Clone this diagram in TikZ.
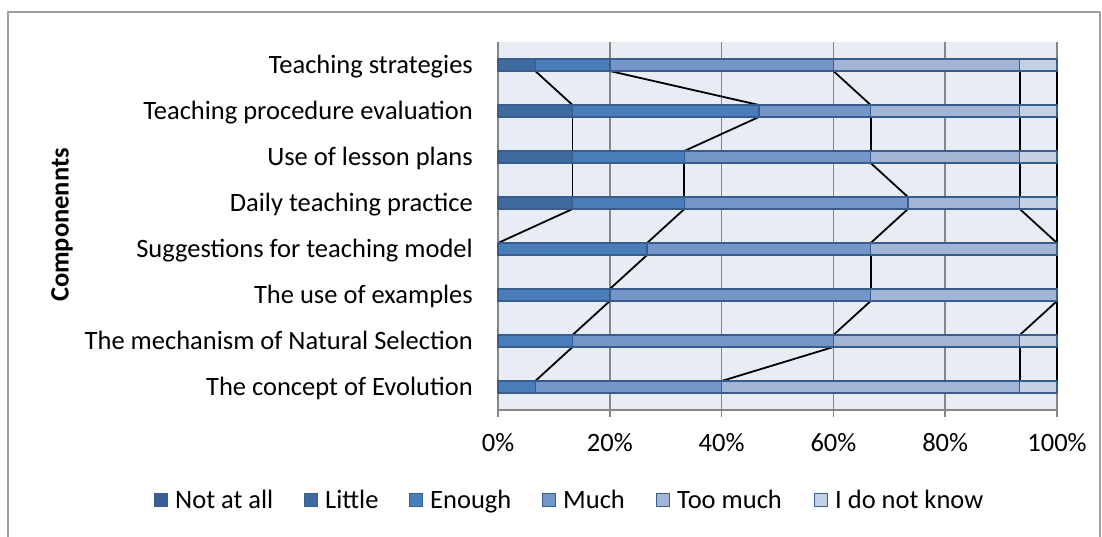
\documentclass[tikz,border=0pt]{standalone}
\usepackage{fontspec}
\setmainfont{Carlito}
\definecolor{notatall}{RGB}{58,96,146}
\definecolor{little}{RGB}{62,106,160}
\definecolor{enough}{RGB}{74,126,187}
\definecolor{much}{RGB}{117,150,201}
\definecolor{toomuch}{RGB}{162,181,215}
\definecolor{dontknow}{RGB}{196,208,230}
\definecolor{barline}{RGB}{56,93,138}
\definecolor{plotbg}{RGB}{232,236,244}
\definecolor{gridgray}{RGB}{134,134,134}
\begin{document}
\begin{tikzpicture}[x=1pt, y=-1pt, font=\fontsize{26.5}{32}\selectfont, line join=round,
		seg/.style={draw=barline, line width=1.4pt},
		serline/.style={black, line width=1.8pt},
		keybox/.style={draw=barline, line width=1.2pt, minimum size=13pt, inner sep=0pt}]
	\useasboundingbox (0,0) rectangle (1102,536);
	\draw[gridgray!80, line width=1.2pt] (8,560)--(8,12)--(1100,12)--(1100,560);
	% plot area and grid
	\fill[plotbg] (498,42) rectangle (1057,410);
	\foreach \p in {20,40,60,80,100} {
		\draw[gridgray, line width=1.5pt] ({498+5.59*\p},42)--({498+5.59*\p},417);
	}
	\foreach \p in {0,20,40,60,80,100}
		\node[anchor=base, inner sep=0pt] (tick\p) at ({498+5.59*\p},451) {\p\%};
	% bars: row / label / cumulative counts out of 15
	\foreach \r/\lab/\a/\b/\c/\d in {
			1/Teaching strategies/1/3/9/14,
			2/Teaching procedure evaluation/2/7/10/14,
			3/Use of lesson plans/2/5/10/14,
			4/Daily teaching practice/2/5/11/14,
			5/Suggestions for teaching model/0/4/10/15,
			6/The use of examples/0/3/10/15,
			7/The mechanism of Natural Selection/0/2/9/14,
			8/The concept of Evolution/0/1/6/14} {
		\pgfmathsetmacro{\yc}{65+46*(\r-1)}
		\node[anchor=base east, inner sep=0pt] (cat\r) at (473,\yc+8) {\lab};
		\foreach \k/\v in {1/\a,2/\b,3/\c,4/\d,5/15} {
			\coordinate (hi-\r-\k) at ({498+559*\v/15},\yc-6);
			\coordinate (lo-\r-\k) at ({498+559*\v/15},\yc+6);
		}
	}
	% series lines
	\foreach \r [evaluate=\r as \n using int(\r+1)] in {1,...,7}
		\foreach \k in {1,...,5}
			\draw[serline] (lo-\r-\k)--(hi-\n-\k);
	% axes over the series lines
	\draw[gridgray, line width=1.5pt] (498,42)--(498,417) (498,410)--(1057,410);
	\foreach \r/\a/\b/\c/\d in {1/1/3/9/14, 2/2/7/10/14, 3/2/5/10/14, 4/2/5/11/14,
			5/0/4/10/15, 6/0/3/10/15, 7/0/2/9/14, 8/0/1/6/14} {
		\pgfmathsetmacro{\yc}{65+46*(\r-1)}
		\foreach \s/\e/\col in {0/\a/little, \a/\b/enough, \b/\c/much, \c/\d/toomuch, \d/15/dontknow}
			\filldraw[seg, fill=\col] ({498+559*\s/15},\yc-6) rectangle ({498+559*\e/15},\yc+6);
	}
	% axis title
	\node[rotate=90, font=\fontsize{26.5}{32}\selectfont\bfseries] (ytitle) at (62,225) {Componennts};
	% legend
	\foreach \i/\x/\col/\txt in {1/154/notatall/Not at all, 2/304/little/Little, 3/409/enough/Enough,
			4/542/much/Much, 5/656/toomuch/Too much, 6/814/dontknow/I do not know} {
		\node[keybox, fill=\col, anchor=west] (key\i) at (\x,500) {};
		\node[anchor=base west, inner sep=0pt] (keytext\i) at (\x+21,508) {\txt};
	}
\end{tikzpicture}
\end{document}
